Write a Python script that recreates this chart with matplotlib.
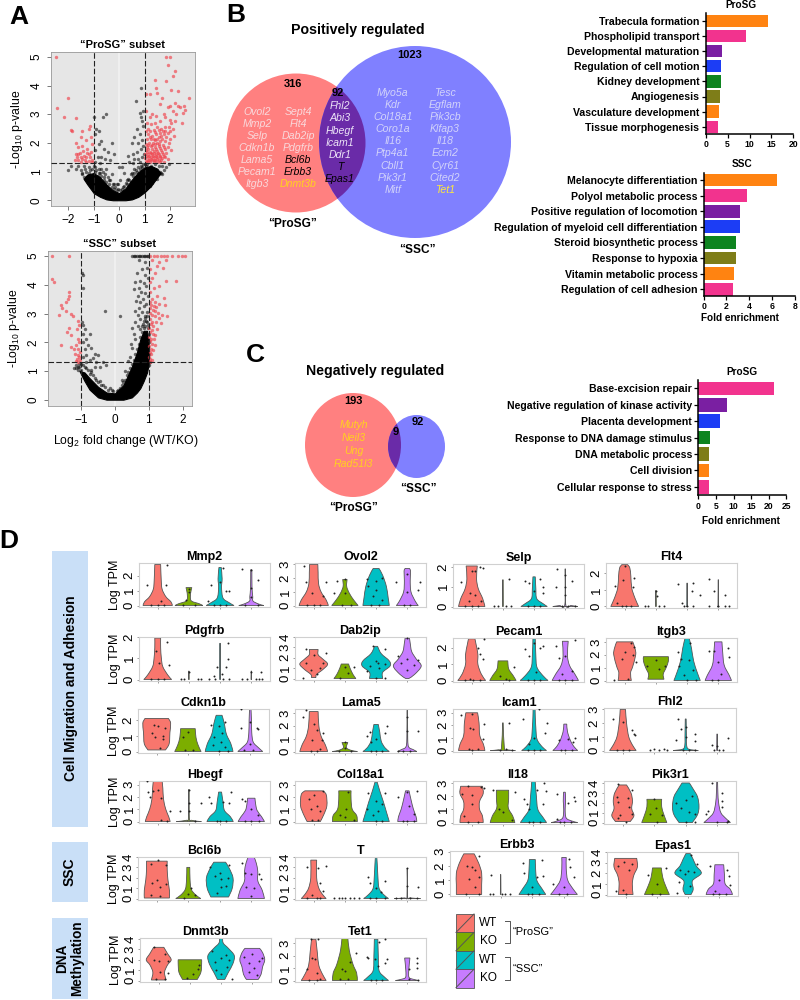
import matplotlib
matplotlib.use("Agg")
import matplotlib.pyplot as plt
from matplotlib.patches import Circle, Ellipse, PathPatch, Rectangle
from matplotlib.path import Path

plt.rcParams["font.family"] = ["Liberation Sans", "DejaVu Sans"]
plt.rcParams["mathtext.default"] = "regular"

# --- PANEL A DATA ---

PROSG_RED = [
    (-2.5, 5.0), (-2.45, 3.22), (-2.0, 3.55), (-2.15, 2.9), (-1.7, 2.88), (-1.9, 2.45), (-1.85, 2.4),
    (-1.45, 2.4), (-1.2, 2.5), (-1.15, 2.6), (-1.5, 2.2), (-1.3, 2.1), (-1.1, 2.2), (-1.7, 2.0), (-1.6, 1.85),
    (-1.45, 1.9), (-1.25, 1.8), (-1.05, 1.95), (-1.7, 1.6), (-1.55, 1.65), (-1.4, 1.55), (-1.2, 1.6), (-1.1, 1.7),
    (-1.75, 1.4), (-1.6, 1.4), (-1.5, 1.35), (-1.35, 1.4), (-1.2, 1.38), (-1.05, 1.42), (-1.65, 1.5), (-1.3, 1.5),
    (1.85, 5.0), (2.0, 5.0), (1.9, 4.7), (2.2, 4.5), (2.1, 4.35), (1.83, 4.15), (1.4, 4.2), (1.43, 3.9),
    (1.5, 3.75), (1.05, 3.7), (1.2, 3.72), (2.3, 3.8), (2.05, 3.85), (2.2, 3.4), (2.75, 3.55), (2.55, 3.3),
    (2.4, 3.25), (2.6, 3.15), (2.5, 3.05), (2.3, 3.3), (2.25, 3.0), (2.1, 3.1), (2.0, 3.3), (1.9, 3.25),
    (1.7, 3.55), (1.6, 3.35), (1.8, 2.9), (1.75, 3.0), (1.45, 2.95), (1.3, 3.0), (1.2, 2.9), (1.05, 3.1),
    (2.2, 2.75), (2.05, 2.7), (1.95, 2.55), (2.1, 2.5), (2.45, 2.7), (2.0, 2.8), (1.6, 2.75), (1.4, 2.7),
    (1.25, 2.65), (1.1, 2.7), (1.8, 2.55), (1.65, 2.5), (1.5, 2.55), (1.35, 2.45), (1.15, 2.5), (1.05, 2.4),
    (1.9, 2.35), (1.75, 2.3), (1.6, 2.35), (1.45, 2.3), (1.3, 2.25), (1.15, 2.3), (1.85, 2.2), (1.7, 2.15),
    (1.55, 2.2), (1.4, 2.1), (1.25, 2.12), (1.08, 2.15), (2.0, 2.15), (1.95, 2.0), (1.8, 2.05), (1.62, 2.05),
    (1.48, 2.0), (1.33, 1.98), (1.18, 2.0), (1.05, 1.95), (1.72, 1.92), (1.55, 1.88), (1.4, 1.85), (1.25, 1.88),
    (1.1, 1.85), (1.9, 1.85), (1.8, 1.78), (1.65, 1.75), (1.5, 1.72), (1.35, 1.72), (1.2, 1.7), (1.05, 1.75),
    (1.72, 1.62), (1.58, 1.62), (1.45, 1.6), (1.3, 1.6), (1.15, 1.6), (1.02, 1.62), (1.85, 1.65), (1.62, 1.5),
    (1.5, 1.5), (1.38, 1.5), (1.25, 1.5), (1.12, 1.5), (1.02, 1.48), (1.7, 1.48), (1.55, 1.4), (1.42, 1.4),
    (1.3, 1.4), (1.18, 1.4), (1.06, 1.38), (1.6, 1.34), (1.48, 1.33), (1.35, 1.33), (1.22, 1.33), (1.1, 1.33),
    (1.75, 1.35), (1.9, 1.45), (2.05, 1.75), (1.98, 2.4), (2.15, 2.25), (1.28, 1.8), (1.42, 1.95), (1.58, 1.95),
    (1.12, 1.92), (1.2, 2.2), (1.35, 2.15), (1.5, 2.12), (1.65, 2.25), (1.8, 2.42), (1.72, 2.42), (1.55, 2.45),
    (1.4, 2.38), (1.22, 2.4), (1.08, 1.68), (1.24, 1.66), (1.38, 1.66), (1.52, 1.64), (1.68, 1.68), (1.76, 1.55),
    (1.6, 1.55), (1.44, 1.54), (1.32, 1.54), (1.18, 1.54), (1.06, 1.56), (1.12, 1.42), (1.25, 1.44), (1.37, 1.42),
    (1.5, 1.44), (1.66, 1.42), (1.82, 1.5), (1.45, 1.78), (1.6, 1.82), (1.75, 1.85), (1.3, 1.92), (1.15, 1.78),
    (-1.5, 1.52), (-1.42, 1.72), (-1.28, 1.65), (-1.15, 1.5), (-1.62, 1.62), (-1.08, 1.32), (-1.3, 1.33), (-1.45, 1.45),
]
PROSG_BLACK = [
    (-0.98, 2.9), (-0.9, 2.5), (-0.95, 2.3), (-0.8, 2.4), (-0.7, 2.05), (-0.5, 3.0), (-0.65, 2.9), (-0.8, 1.95),
    (-0.6, 1.8), (-0.45, 1.7), (-0.3, 2.0), (-0.95, 1.75), (-0.85, 1.5), (-0.7, 1.5), (-0.55, 1.45), (-0.35, 1.4),
    (-0.95, 1.35), (-0.75, 1.3), (-0.2, 1.6), (0.55, 1.6), (0.5, 2.0), (0.6, 2.2), (0.7, 2.5), (0.75, 2.0),
    (0.8, 3.05), (0.85, 2.9), (0.9, 2.75), (0.95, 2.6), (0.8, 2.3), (0.9, 2.1), (0.95, 3.1), (0.65, 3.45),
    (0.85, 3.9), (0.95, 1.9), (0.85, 1.8), (0.7, 1.7), (0.6, 1.45), (0.75, 1.45), (0.9, 1.5), (0.98, 1.6),
    (0.4, 1.35), (0.55, 1.3), (0.8, 1.35), (0.35, 1.55), (0.2, 0.95), (0.1, 1.15), (0.0, 1.17), (-0.1, 0.55),
    (-0.2, 0.58), (-0.05, 0.55), (0.05, 0.7), (-0.3, 0.9), (-0.5, 1.1), (-0.7, 1.1), (-0.95, 1.15), (-1.2, 1.15),
    (-1.4, 1.2), (-1.6, 1.2), (-1.7, 1.1), (-1.5, 1.05), (-1.3, 1.0), (-1.1, 0.85), (-1.25, 0.8), (-1.45, 0.9),
    (-2.0, 1.05), (-1.9, 1.2), (1.1, 1.25), (1.25, 1.2), (1.4, 1.25), (1.55, 1.2), (1.7, 1.2), (1.85, 1.15),
    (1.95, 1.25), (1.15, 1.1), (1.3, 1.05), (1.45, 1.0), (1.6, 1.0), (1.75, 1.05), (1.5, 0.85), (1.35, 0.8),
    (1.25, 0.65), (-0.4, 0.7), (-0.6, 0.8), (-0.8, 0.95), (0.3, 0.7), (0.45, 0.9), (0.6, 1.1),
    (-1.45, 0.95), (-1.4, 0.8), (-1.35, 1.1), (-1.3, 0.7), (-1.2, 0.95), (-1.15, 1.05), (-1.1, 0.6), (-1.05, 1.1),
    (-1.0, 1.2), (-0.95, 1.0), (-0.9, 1.05), (-0.85, 0.85), (-0.8, 1.1), (-0.75, 0.95), (-0.7, 0.85), (-0.65, 1.0),
    (-0.6, 0.7), (-0.55, 0.9), (-0.5, 0.65), (-0.45, 0.8), (-0.4, 0.55), (-0.35, 0.7), (-0.3, 0.45), (-0.25, 0.55),
    (-0.2, 0.4), (-0.15, 0.45), (-0.1, 0.35), (-0.05, 0.4), (0.05, 0.35), (0.1, 0.4), (0.15, 0.45), (0.2, 0.5),
    (0.25, 0.6), (0.3, 0.55), (0.35, 0.75), (0.4, 0.7), (0.45, 0.65), (0.5, 0.95), (0.55, 0.85), (0.6, 0.95),
    (0.65, 1.05), (0.7, 1.0), (0.75, 1.15), (0.8, 1.1), (0.85, 1.2), (0.9, 1.15), (0.95, 1.28), (1.0, 1.25),
    (1.05, 1.2), (1.1, 0.95), (1.2, 0.5), (1.3, 0.6), (1.4, 0.75), (1.5, 0.75), (1.55, 0.9), (1.65, 0.95), (1.7, 0.9),
]
PROSG_MASS_X = [-1.4, -1.25, -1.0, -0.75, -0.5, -0.25, 0.0, 0.25, 0.5, 0.75, 1.0, 1.25, 1.5, 1.62]
PROSG_MASS_TOP = [0.75, 0.9, 0.95, 0.8, 0.55, 0.35, 0.25, 0.42, 0.72, 0.98, 1.15, 1.2, 1.1, 0.95]
PROSG_MASS_LOW = [0.75, 0.55, 0.25, 0.12, 0.03, 0.0, 0.0, 0.0, 0.03, 0.12, 0.28, 0.5, 0.8, 0.95]

SSC_RED = [
    (-1.85, 5.0), (-1.35, 5.0), (-1.85, 4.2), (-1.8, 4.1), (-1.35, 3.75), (-1.35, 3.6), (-1.4, 3.5), (-1.45, 3.4),
    (-1.6, 3.3), (-1.58, 3.2), (-1.65, 2.95), (-1.45, 3.1), (-1.3, 3.0), (-1.25, 2.9), (-1.1, 2.75), (-1.05, 2.6),
    (-1.12, 2.45), (-1.35, 2.5), (-1.42, 2.35), (-1.3, 2.25), (-1.6, 1.9), (-1.3, 1.85), (-1.1, 2.1), (-1.05, 2.0),
    (-1.15, 1.9), (-1.2, 1.75), (-1.08, 1.75), (-1.03, 1.65), (-1.18, 1.6), (-1.1, 1.55), (-1.05, 1.48), (-1.12, 1.42),
    (-1.02, 1.38), (-1.08, 1.33), (-1.15, 1.35),
    (1.05, 5.0), (1.15, 5.0), (1.25, 5.0), (1.35, 5.0), (1.45, 5.0), (1.55, 5.0), (1.7, 5.0), (1.88, 5.0),
    (1.98, 5.0), (2.07, 5.0), (1.1, 4.85), (1.3, 4.8), (1.5, 4.85), (1.05, 4.55), (1.25, 4.65), (1.42, 4.6),
    (1.2, 4.4), (1.1, 4.25), (1.5, 4.15), (1.8, 4.15), (1.03, 4.1), (1.3, 3.95), (1.15, 3.9), (1.05, 3.75),
    (1.25, 3.6), (1.45, 3.55), (1.1, 3.5), (1.03, 3.4), (1.18, 3.42), (1.3, 3.35), (1.48, 3.3), (1.07, 3.3),
    (1.15, 3.28), (1.22, 3.22), (1.05, 3.18), (1.12, 3.12), (1.2, 3.08), (1.27, 3.02), (1.03, 3.02), (1.1, 2.95),
    (1.18, 2.9), (1.3, 2.85), (1.04, 2.8), (1.1, 2.72), (1.22, 2.7), (1.35, 2.68), (1.06, 2.62), (1.14, 2.55),
    (1.02, 2.5), (1.09, 2.42), (1.25, 2.45), (1.04, 2.35), (1.12, 2.3), (1.2, 2.25), (1.02, 2.2), (1.08, 2.12),
    (1.15, 2.1), (1.03, 2.05), (1.1, 1.95), (1.18, 1.9), (1.02, 1.88), (1.06, 1.78), (1.12, 1.72), (1.03, 1.65),
    (1.08, 1.58), (1.02, 1.5), (1.05, 1.42), (1.1, 1.38), (1.03, 1.33), (1.4, 2.95), (1.55, 2.9),
]
SSC_BLACK = [
    (0.5, 5.0), (0.55, 5.0), (0.6, 5.0), (0.65, 5.0), (0.7, 5.0), (0.75, 5.0), (0.8, 5.0), (0.85, 5.0), (0.9, 5.0),
    (0.95, 5.0), (0.98, 5.0), (0.72, 4.85), (0.9, 4.8), (0.95, 4.6), (0.8, 4.55), (0.65, 4.4), (0.88, 4.35),
    (0.97, 4.25), (0.75, 4.15), (0.6, 4.1), (0.85, 4.05), (0.93, 3.95), (0.7, 3.9), (0.55, 3.85), (0.78, 3.75),
    (0.9, 3.7), (0.97, 3.6), (0.68, 3.6), (0.83, 3.5), (0.62, 3.45), (0.75, 3.4), (0.92, 3.35), (0.85, 3.25),
    (0.7, 3.2), (0.6, 3.1), (0.8, 3.05), (0.95, 3.05), (0.68, 2.95), (0.88, 2.9), (0.75, 2.8), (0.6, 2.7),
    (0.92, 2.75), (0.82, 2.65), (0.97, 2.6), (0.5, 2.5), (0.68, 2.55), (0.14, 2.9), (-0.98, 4.4), (-0.95, 4.35),
    (-0.95, 3.9), (-0.3, 3.1), (-0.98, 2.7), (-0.93, 2.6), (-0.9, 2.45), (-0.95, 2.3), (-0.85, 2.1), (-0.75, 2.3),
    (-0.95, 2.0), (-0.8, 1.9), (-0.7, 1.8), (-0.6, 1.6), (-0.5, 1.55), (-0.9, 1.75), (-0.65, 1.45), (-0.85, 1.55),
    (-0.95, 1.5), (-0.75, 1.4), (-0.55, 1.3), (-0.35, 1.3), (-0.25, 1.2), (-0.45, 1.15), (-0.6, 1.15), (-1.05, 1.25),
    (-1.1, 1.15), (-1.0, 1.05), (-0.7, 1.05), (-0.85, 1.3), (-1.15, 1.2), (0.45, 1.5), (0.5, 1.8), (0.4, 1.35),
    (0.6, 2.1), (0.55, 2.3), (0.48, 1.95), (0.75, 2.45), (0.3, 1.0), (0.2, 0.7), (1.02, 1.2), (1.05, 1.3),
    (0.5, 1.25), (0.55, 1.4), (0.6, 1.35), (0.6, 1.6), (0.65, 1.75), (0.7, 1.55), (0.7, 1.95), (0.75, 2.2),
    (0.75, 1.8), (0.8, 2.35), (0.8, 2.55), (0.85, 2.5), (0.85, 2.75), (0.9, 2.55), (0.9, 2.85), (0.95, 2.7),
    (0.95, 2.9), (1.0, 2.0), (1.0, 1.6), (1.0, 2.3), (0.98, 2.5), (0.4, 0.95), (0.35, 0.85), (0.3, 0.7), (0.25, 0.6),
    (0.2, 0.5), (0.15, 0.4), (0.1, 0.35), (0.05, 0.3), (-0.05, 0.3), (-0.1, 0.35), (-0.15, 0.4), (-0.2, 0.35),
    (-0.3, 0.45), (-0.35, 0.5), (-0.4, 0.5), (-0.45, 0.65), (-0.5, 0.6), (-0.55, 0.7), (-0.6, 0.75), (-0.65, 0.85),
    (-0.7, 0.95), (-0.75, 0.9), (-0.8, 1.05), (-0.85, 1.1), (-0.9, 1.15), (-0.95, 1.2), (-1.0, 1.25), (-1.05, 1.15),
    (-1.1, 1.05), (-1.15, 1.1), (-1.2, 1.1), (0.45, 1.1),
]
SSC_MASS_X = [-1.05, -0.9, -0.75, -0.5, -0.25, 0.0, 0.25, 0.5, 0.65, 0.75, 0.85, 0.95, 1.0]
SSC_MASS_TOP = [1.0, 0.95, 0.75, 0.45, 0.25, 0.22, 0.5, 1.15, 1.65, 2.1, 2.4, 2.4, 1.9]
SSC_MASS_LOW = [1.0, 0.65, 0.35, 0.08, 0.0, 0.0, 0.0, 0.08, 0.25, 0.4, 0.65, 0.95, 1.25]

# --- PANEL B AND C DATA ---

UP_PROSG_ONLY_1 = ["Ovol2", "Mmp2", "Selp", "Cdkn1b", "Lama5", "Pecam1", "Itgb3"]
UP_PROSG_ONLY_2 = ["Sept4", "Flt4", "Dab2ip", "Pdgfrb", "Bcl6b", "Erbb3", "Dnmt3b"]
UP_SHARED = ["Fhl2", "Abi3", "Hbegf", "Icam1", "Ddr1", "T", "Epas1"]
UP_SSC_ONLY_1 = ["Myo5a", "Kdr", "Col18a1", "Coro1a", "Il16", "Ptp4a1", "Cbll1", "Pik3r1", "Mitf"]
UP_SSC_ONLY_2 = ["Tesc", "Egflam", "Pik3cb", "Klfap3", "Il18", "Ecm2", "Cyr61", "Cited2", "Tet1"]
DOWN_PROSG_ONLY = ["Mutyh", "Neil3", "Ung", "Rad51l3"]

UP_PROSG_TERMS = ["Trabecula formation", "Phospholipid transport", "Developmental maturation",
                  "Regulation of cell motion", "Kidney development", "Angiogenesis",
                  "Vasculature development", "Tissue morphogenesis"]
UP_PROSG_FOLD = [14.3, 9.3, 3.7, 3.5, 3.5, 3.2, 3.0, 2.7]
UP_SSC_TERMS = ["Melanocyte differentiation", "Polyol metabolic process",
                "Positive regulation of locomotion", "Regulation of myeloid cell differentiation",
                "Steroid biosynthetic process", "Response to hypoxia", "Vitamin metabolic process",
                "Regulation of cell adhesion"]
UP_SSC_FOLD = [6.4, 3.8, 3.2, 3.15, 2.85, 2.85, 2.65, 2.6]
DOWN_PROSG_TERMS = ["Base-excision repair", "Negative regulation of kinase activity", "Placenta development",
                    "Response to DNA damage stimulus", "DNA metabolic process", "Cell division",
                    "Cellular response to stress"]
DOWN_PROSG_FOLD = [21.6, 8.2, 6.1, 3.4, 3.0, 3.0, 3.0]

ORANGE, PINK, PURPLE, BLUE, GREEN, OLIVE = "#FF8311", "#F2338E", "#7A1FA2", "#1C3DF5", "#0E8420", "#7E7D18"
UP_COLORS = [ORANGE, PINK, PURPLE, BLUE, GREEN, OLIVE, ORANGE, PINK]
DOWN_COLORS = [PINK, PURPLE, BLUE, GREEN, OLIVE, ORANGE, PINK]

# --- PANEL D DATA ---
# outline of each violin: (log TPM, relative half width), one list for each of the four groups

GROUP_COLORS = ["#F8766D", "#7CAE00", "#00BFC4", "#C77CFF"]

MMP2_SHAPES = [[(0, 1), (.25, .9), (.6, .55), (1.1, .3), (1.7, .24), (2.75, .2)],
               [(0, .95), (.12, .7), (.3, .18), (.6, .1), (1.0, .15), (1.2, .2)],
               [(0, .95), (.2, .6), (.5, .2), (1.2, .1), (1.8, .14), (2.55, .08)],
               [(0, .85), (.1, .5), (.3, .12), (.6, .1), (1.2, .05), (2.4, .04)]]
MMP2_DOTS = [(.65, 1.35), (1.3, 2.7), (1.25, 1.4), (1.1, .3), (1, .05), (.8, .03), (1.2, .03), (1.9, .4), (2, .9),
             (2, 1.1), (2.2, .05), (1.8, .03), (2.6, .3), (2.7, 1.4), (3, 1.6), (3.1, 2.5), (3.2, 1.0), (3.3, .95),
             (3, .03), (3.2, .03), (2.8, .03), (3.7, 2.45), (4, 2.4), (4, 1.2), (4, .6), (4.2, 1.7), (4.2, .03), (3.8, .03)]

OVOL2_SHAPES = [[(0, 1), (.4, .85), (1, .5), (1.6, .33), (2.4, .3), (3, .28)],
                [(0, .9), (.4, .6), (.9, .3), (1.4, .12), (1.9, .15)],
                [(0, .9), (.6, .82), (1.4, .7), (2.2, .45), (2.7, .2)],
                [(0, .75), (.3, .55), (1, .25), (1.8, .2), (2.5, .22), (2.7, .15)]]
OVOL2_DOTS = [(.7, 2.9), (.75, 1.7), (.95, .9), (1.4, 1.7), (1.3, .7), (1, .03), (.8, .03), (1.2, .03), (1.65, .9),
              (1.75, 1.8), (2, 1.9), (2, .9), (1.9, .03), (2.2, .03), (2.7, 1.9), (2.75, 1.4), (3, 1.8), (3, 1.1),
              (3.2, 2.0), (2.9, .7), (3.2, .4), (3.1, .03), (2.85, .03), (3.65, 1.7), (4, 2.3), (4.4, 1.7), (4.35, 1.1),
              (4, 1.0), (4.1, .03), (3.9, .03)]

SELP_SHAPES = [[(0, .9), (.4, .75), (.9, .45), (1.4, .33), (2.05, .38)],
               [(0, .03), (1.35, .02)],
               [(0, .9), (.15, .6), (.4, .18), (.9, .12), (1.5, .08)],
               [(0, .85), (.05, .4), (.1, .03), (1.9, .02)]]
SELP_DOTS = [(.65, 1.25), (1.35, 1.95), (1.25, 2.0), (1.1, 1.8), (1, 1.8), (.95, .7), (1.1, .6), (1.3, .3), (.9, .3),
             (1, .03), (1.2, .03), (.8, .03), (1.7, .03), (1.85, .03), (2.1, .03), (2.25, .03), (2.2, 1.4), (2.7, 1.3),
             (2.85, 1.2), (3.2, 1.4), (3.3, 1.0), (3.3, .7), (3, .8), (3, .03), (3.2, .03), (2.8, .03), (3.7, 1.0),
             (3.75, 1.9), (4, 1.6), (4, 1.0), (4, .6), (4.2, 1.3), (3.9, .03), (4.1, .03), (4.3, .03)]

FLT4_SHAPES = [[(0, .95), (.5, .7), (1.1, .48), (1.8, .42), (2.3, .35), (2.5, .2)],
               [(0, .03), (.95, .02)],
               [(0, .05), (.1, .02), (1.4, .01)],
               [(0, .05), (.1, .02), (1.6, .01)]]
FLT4_DOTS = [(.7, 1.2), (.95, 1.6), (1, 2.4), (1.3, 1.7), (1.25, 1.15), (.75, .2), (.9, .03), (1.2, .03), (1.05, .03),
             (1.65, .03), (1.75, .03), (2, .9), (2.05, .6), (2.1, .03), (2.25, .03), (2.7, 1.35), (2.85, .2), (3.2, 1.4),
             (3.15, .9), (3.4, .7), (3, .03), (3.2, .03), (2.9, .03), (3.7, 1.65), (3.85, .9), (3.7, .03), (4.2, .7),
             (4, .03), (4.2, .03), (4.35, .03)]

PDGFRB_SHAPES = [[(0, .95), (.2, .7), (.6, .35), (1.0, .25), (1.5, .2), (1.95, .2)],
                 [(0, .02), (.4, .01)],
                 [(0, .03), (1.7, .03)],
                 [(0, .02), (.4, .01)]]
PDGFRB_DOTS = [(1.05, .8), (.95, 1.35), (1.3, 1.75), (1.35, .7), (.8, .03), (1, .03), (1.2, .03), (1.75, .03), (1.85, .03),
               (2, .35), (2.3, .03), (2.4, .03), (2.65, .03), (2.8, .15), (2.85, .03), (2.9, .6), (3.1, .03), (3.25, 1.7),
               (3.25, .95), (3.2, .6), (3.3, .03), (3.05, .25), (3.7, .03), (3.85, .03), (4, .35), (4.15, .03), (4.25, .03),
               (4.3, .35), (4.35, .03)]

DAB2IP_SHAPES = [[(.1, .15), (.4, .2), (.9, .65), (1.4, .95), (1.9, .6), (2.3, .3), (2.8, .3)],
                 [(0, .75), (.4, .55), (1.0, .35), (1.4, .25)],
                 [(0, .45), (.6, .45), (1.2, .95), (1.7, .9), (2.4, .35), (3.1, .1)],
                 [(0, .1), (.4, .5), (1.2, .95), (1.9, .6), (2.6, .3), (3.4, .2), (3.9, .15)]]
DAB2IP_DOTS = [(.65, .03), (.75, 2.8), (1, 2.3), (1.2, 1.0), (.9, .8), (.75, 1.5), (1.3, 1.5), (1.4, 2.5), (1.1, .4),
               (1.85, .03), (2, 1.1), (2.1, .5), (2.3, 1.1), (2.9, 3.1), (3.3, 2.8), (3, 1.7), (2.8, 1.2), (3.1, 1.0),
               (3.3, 1.4), (3.05, 1.5), (2.7, .7), (3, .03), (3.3, .03), (4, 3.9), (4, 1.9), (3.8, 1.5), (4.2, 1.3),
               (4, .8), (3.7, 2.2), (4.35, 1.8)]

PECAM1_SHAPES = [[(0, .95), (.4, .65), (1, .42), (1.6, .42), (2.2, .3), (2.55, .22)],
                 [(0, .9), (.3, .7), (.7, .4), (1.2, .33)],
                 [(0, .95), (.3, .6), (.8, .2), (1.5, .12), (2.55, .08)],
                 [(0, .9), (.4, .65), (.9, .3), (1.5, .15), (2.4, .2)]]
PECAM1_DOTS = [(1.4, 2.55), (1.2, 2.0), (1.25, 1.6), (1.35, 1.3), (.95, .1), (1.05, .03), (1.25, .03), (.8, .03), (2.35, .8),
               (1.9, .3), (2.1, .1), (2.2, .03), (2.7, 1.9), (2.85, 1.5), (3, 2.3), (3.2, 2.0), (3.3, 2.1), (3.05, .5),
               (3, .03), (3.2, .03), (2.8, .03), (3.7, 2.1), (3.8, 1.4), (4, 1.5), (4.3, 2.5), (3.9, .4), (4.2, .6),
               (4, .03), (4.2, .03), (3.8, .03)]

ITGB3_SHAPES = [[(0, .45), (.6, .4), (1.1, .55), (2, .75), (2.5, .7), (3, .55)],
                [(.1, .55), (.5, .5), (1, .7), (1.5, .85), (1.85, .85)],
                [(0, .9), (.6, .7), (1.5, .45), (2.5, .3), (3.25, .15)],
                [(0, .9), (.4, .75), (1.2, .4), (2.2, .3), (3, .25)]]
ITGB3_DOTS = [(.65, .03), (1.2, 2.9), (1.3, 2.6), (1, 2.2), (1.25, 2.0), (.9, 1.7), (1.1, .1), (1.35, 1.4), (2, 1.6), (1.7, 1.1),
              (2.3, 1.1), (2.1, .9), (2.7, 2.2), (2.8, 1.7), (2.75, 1.1), (3.1, 2.9), (3.05, 1.6), (3.2, .8), (3, .03),
              (3.3, .03), (2.9, .4), (3.7, 2.3), (3.85, 2.3), (4.3, 2.5), (4.35, 1.8), (4, 1.4), (4.1, .5), (4, .03), (3.8, .03)]

CDKN1B_SHAPES = [[(.1, .6), (.5, .85), (1.2, .9), (1.8, .95), (2.1, .8)],
                 [(0, .9), (.4, .7), (.9, .55), (1.45, .5)],
                 [(0, .95), (.5, .8), (1.1, .5), (1.8, .35), (2.3, .2)],
                 [(0, .85), (.25, .55), (.6, .2), (1.2, .1), (2, .08), (2.7, .05)]]
CDKN1B_DOTS = [(.9, 1.7), (1.05, 1.6), (1.25, 1.5), (.85, 1.2), (1.2, 1.0), (.95, .9), (1.2, .8), (1.1, .2), (2, 1.25), (1.85, .9),
               (2.15, .1), (1.9, .1), (2.75, 1.7), (2.85, .9), (3, 1.6), (3.1, 1.2), (3.2, 1.9), (3.05, .6), (2.8, .4),
               (3.2, .3), (3, .03), (3.3, .03), (3.7, 2.7), (3.7, 1.5), (4, 1.9), (4.2, 1.5), (4.25, 1.45), (4, .5), (4.1, .1), (3.8, .1)]

LAMA5_SHAPES = [[(0, .95), (.5, .8), (1.2, .5), (2, .35), (3.1, .3)],
                [(0, .85), (.1, .4), (.3, .1), (.7, .2)],
                [(0, .9), (.3, .6), (.8, .35), (1.5, .25), (2.1, .15)],
                [(0, .65), (.15, .4), (.35, .1), (1, .03), (3.2, .02)]]
LAMA5_DOTS = [(.65, 2.7), (.75, 3.2), (1, 2.1), (1.1, 1.7), (.95, .9), (1.3, 1.4), (1.25, .9), (1.2, .2), (.9, .03), (1.1, .03),
              (2, .7), (2, .3), (1.8, .03), (2.2, .03), (2.7, 1.2), (2.8, 1.5), (2.85, .7), (3, 1.0), (3.35, 2.0), (3.3, 1.4),
              (3, .03), (3.2, .03), (2.85, .03), (4, 2.7), (4, 1.6), (4.35, 1.6), (4.1, .03), (3.85, .03), (3.7, .03)]

ICAM1_SHAPES = [[(0, .9), (.5, .8), (1.2, .55), (2.2, .5), (3, .4)],
                [(0, .85), (.06, .3), (.2, .1), (2.2, .02)],
                [(0, .85), (.3, .55), (.9, .2), (1.8, .12), (2.7, .08), (3.3, .07)],
                [(0, .85), (.3, .6), (.8, .35), (1.5, .15), (2.1, .1)]]
ICAM1_DOTS = [(.65, 2.8), (1, 2.9), (.95, 1.8), (1.05, 1.7), (1.4, 2.1), (1.35, .9), (.9, .1), (1.2, .1), (1, .03), (2.2, 2.2),
              (1.9, .03), (2.1, .1), (2.3, .03), (2.65, 2.5), (2.85, .5), (3, 1.0), (3.15, 3.3), (3.35, 1.4), (3.4, 2.2),
              (3, .03), (3.2, .03), (2.8, .03), (3.8, .8), (4.1, .9), (4.3, 1.0), (4.25, .7), (4, .03), (3.85, .03), (4.2, .03)]

FHL2_SHAPES = [[(0, .9), (.4, .65), (1, .4), (2, .25), (3, .18)],
               [],
               [(0, .85), (.1, .2), (.4, .06), (1, .05), (2.3, .03)],
               [(0, .03), (1.2, .02)]]
FHL2_DOTS = [(.7, 2.3), (1, 2.1), (1.3, 1.5), (1.4, 1.1), (1.35, 1.2), (1, .03), (.8, .03), (1.2, .03), (1.85, .03), (2, .1), (2.15, .03),
             (2.3, .1), (2.4, .03), (2.7, .8), (2.75, 2.3), (2.85, 1.6), (3, 1.7), (3, 1.0), (3.3, 1.2), (3.3, .7), (2.9, .03),
             (3.1, .03), (3.3, .03), (3.85, .4), (3.9, .03), (4, .3), (4.05, .03), (4.35, .9), (4.2, .03)]

HBEGF_SHAPES = [[(0, .85), (.4, .75), (1, .55), (1.8, .4), (2.7, .35), (3.3, .3)],
                [(0, .85), (.1, .2), (.3, .03), (2.6, .02)],
                [(0, .9), (.4, .7), (.9, .3), (1.6, .2), (2.4, .1)],
                [(0, .9), (.4, .7), (.9, .4), (1.4, .3), (1.9, .25)]]
HBEGF_DOTS = [(.65, 3.3), (.7, 2.4), (.85, 2.5), (1, 2.6), (1.1, 1.9), (.75, 2.0), (1.4, .9), (1.1, .1), (1.3, .03), (1.7, .85),
              (2, 2.6), (2, 1.5), (2, .85), (2.4, 1.5), (2.2, .03), (2.65, 2.0), (2.7, 1.5), (3.1, 1.6), (3.35, 2.4), (3.3, 1.5),
              (3, .03), (3.2, .03), (2.9, .03), (3.7, 1.8), (3.8, 1.7), (4, 1.0), (4.2, .5), (4, .03), (3.8, .03), (4.25, .03)]

COL18A1_SHAPES = [[(0, .45), (.6, .7), (1.3, .9), (2.2, .85), (2.5, .6)],
                  [(0, .85), (.5, .8), (1, .5), (1.8, .42), (2.5, .42)],
                  [(0, .9), (.8, .7), (1.6, .5), (2.5, .25), (3.2, .08)],
                  [(0, .65), (.4, .6), (1, .42), (1.8, .25), (2.5, .12)]]
COL18A1_DOTS = [(.85, 1.8), (1, 2.2), (1.1, 1.3), (1.3, 2.5), (.9, 1.0), (1.2, .9), (.95, .1), (1.15, .1), (1.85, .5), (2, .4), (2.1, 2.4),
                (2.05, 1.0), (2.3, .1), (2.7, 1.0), (2.75, 2.3), (3, 1.7), (3.05, .9), (3.2, 1.4), (3.3, 2.3), (2.9, .5), (3, .03),
                (3.2, .03), (3.7, 2.0), (4, 2.4), (4.3, 2.5), (4.05, 1.3), (4.2, .6), (4, .03), (3.85, .03), (4.2, .03)]

IL18_SHAPES = [[(0, .8), (.5, .75), (1, .55), (1.6, .55), (2.2, .8), (2.75, .75)],
               [(0, .85), (.5, .7), (1.1, .4), (1.8, .42), (2.45, .42)],
               [(0, .9), (.4, .65), (1, .3), (2, .2), (3.1, .12)],
               [(0, .9), (.12, .5), (.35, .12), (1, .05), (1.6, .08), (2.3, .06)]]
IL18_DOTS = [(.7, 2.2), (.9, 2.75), (1, 2.1), (1.3, 2.7), (1.4, 2.6), (1, 1.4), (.75, .5), (1.2, .03), (.9, .03), (1.7, 2.5), (1.9, 1.0), (2, .8),
             (2.4, 2.3), (2.3, .2), (2.7, 1.8), (2.8, 1.4), (2.85, 1.0), (3.1, 2.5), (3.35, 3.0), (3.4, 2.4), (3.3, 1.4), (3, .03), (3.2, .03), (2.85, .03),
             (3.75, 2.2), (3.75, .3), (4.1, 1.5), (4.35, 1.6), (4.3, 1.9), (4, .03), (4.2, .03), (3.85, .03)]

PIK3R1_SHAPES = [[(.1, .5), (.7, .75), (1.4, .6), (2.2, .65), (3, .55), (3.8, .25)],
                 [(0, .85), (.8, .65), (1.6, .5), (2.35, .5)],
                 [(0, .45), (.8, .8), (1.6, .9), (2.6, .8), (3.4, .5), (4, .25)],
                 [(0, .9), (.4, .6), (1, .25), (2, .1), (3, .05), (4.1, .03)]]
PIK3R1_DOTS = [(.85, 3.9), (.8, 2.6), (.85, 2.1), (.9, .8), (.85, .5), (1.2, 1.6), (1.15, 2.5), (1.3, .9), (1.3, 3.3), (1.1, .03), (1.85, .9),
               (2, 2.4), (2.05, 1.5), (2.25, .8), (2.1, .03), (2.7, 2.0), (2.85, 1.5), (3, 2.3), (3.1, 1.1), (3.2, 2.7), (3.3, .9), (3, .1), (3.3, .03),
               (3.65, .9), (3.7, 1.2), (3.85, 4.0), (4.15, 3.0), (4.15, 2.2), (4.15, 1.6), (4.35, .2), (4.3, .03), (4, .03)]

BCL6B_SHAPES = [[(.05, .85), (.8, .85), (1.8, .75), (2.8, .7), (3.6, .7)],
                [(0, .85), (.35, .5), (.9, .2), (1.8, .12), (3, .1)],
                [(.15, .6), (1, .85), (2, .9), (2.9, .65), (3.5, .4)],
                [(0, .9), (.8, .75), (1.7, .45), (2.6, .45), (3.4, .35), (4, .2)]]
BCL6B_DOTS = [(.8, 3.3), (1.05, 3.7), (1.3, 3.2), (.85, 1.5), (1, 1.8), (1.3, 1.4), (1.1, 1.1), (.8, .3), (1.1, .2), (1.85, .1), (2, .4), (2.1, 1.0),
              (2.2, .3), (2.7, 3.0), (2.85, 2.2), (3, 2.5), (3.05, 1.9), (3.25, 2.0), (3.05, 1.1), (3.2, 1.2), (2.9, .5), (3.3, 3.2), (3.7, 3.4), (3.8, 2.5),
              (4, 2.4), (4.25, 2.4), (4.1, 1.0), (4, .2), (3.85, 1.1), (4.3, 1.9)]

T_SHAPES = [[(0, .85), (.4, .6), (1, .35), (2, .2), (3.7, .2)],
            [],
            [(0, .85), (.4, .5), (1, .2), (2.2, .12), (3.3, .08), (3.95, .05)],
            [(0, .9), (.06, .2), (.2, .02), (2.9, .02)]]
T_DOTS = [(.8, 3.0), (1.15, 2.9), (1.4, 3.1), (1.2, 1.5), (1.3, .7), (.95, .3), (1.1, .03), (.8, .03), (1.2, .03), (1.65, .03), (1.8, .03), (1.9, .03),
          (2, .1), (2.15, .03), (2.3, .03), (2.45, .03), (2.75, 2.1), (2.8, 1.5), (3, 1.0), (3.3, 1.7), (3.15, .6), (3, .03), (3.3, .03), (2.8, .03),
          (3.65, .03), (4, 2.9), (4, 1.2), (4.35, 1.1), (4.1, .03), (3.8, .03), (4.3, .03)]

ERBB3_SHAPES = [[(0, .85), (.7, .85), (1.5, .85), (2.2, .65), (2.85, .35)],
                [(0, .02), (1.4, .01)],
                [(0, .9), (.4, .65), (1, .3), (1.8, .22), (2.45, .2)],
                [(0, .9), (.4, .6), (1, .25), (1.8, .15), (2.6, .15)]]
ERBB3_DOTS = [(.95, 2.0), (1.1, 1.9), (1.2, 1.7), (1.3, 2.7), (1.3, 1.2), (1, 1.1), (1.2, .5), (.9, .03), (1.3, .03), (1.7, 1.4), (1.65, .03), (1.75, .03),
              (2.05, .03), (2.15, .03), (2.3, .03), (2.7, 2.2), (2.75, 1.5), (3, .5), (3.15, 1.2), (3.3, 2.4), (3.35, 1.3), (3, .03), (3.2, .03), (2.85, .03),
              (3.65, .7), (4.15, 2.5), (4.2, 1.9), (4.3, 1.2), (4, .5), (4.1, .03), (3.85, .03)]

EPAS1_SHAPES = [[(0, .5), (1, .45), (1.8, .55), (2.6, .8), (3.4, .75)],
                [(0, .85), (.8, .6), (1.6, .4), (2.5, .3)],
                [(0, .2), (.5, .35), (1.3, .3), (2, .9), (2.7, .55), (3.3, .35), (3.85, .15)],
                [(0, .9), (.5, .75), (1, .4), (1.9, .35), (2.8, .3)]]
EPAS1_DOTS = [(.7, .3), (.75, 2.7), (.95, 3.1), (1.1, 2.3), (1.2, 2.9), (.9, .4), (1, .03), (1.7, 1.8), (2, 1.0), (2.3, 2.5), (2.1, .03), (1.85, .03),
              (2.65, .1), (2.7, 1.2), (2.75, 2.3), (2.9, 1.9), (3, 2.2), (3.2, 2.1), (3.1, 3.7), (3.3, 2.9), (3.05, .8), (3.7, 2.7), (3.85, .3), (4, 1.4),
              (4.25, 2.3), (4.3, 1.7), (4.35, .9), (4.2, .03), (4, .03), (3.8, .03)]

DNMT3B_SHAPES = [[(.05, .5), (.8, .4), (1.5, .6), (2, .85), (2.6, .6), (3.2, .35)],
                 [(.1, .5), (.8, .75), (1.6, .8), (2, .8)],
                 [(.1, .25), (.8, .5), (1.6, .8), (2.4, .9), (3.1, .5), (3.6, .15), (4.1, .1)],
                 [(.1, .4), (.6, .6), (1.3, .7), (2, .85), (2.7, .7), (3.1, .5)]]
DNMT3B_DOTS = [(.85, 3.2), (.85, 2.0), (1, 1.9), (1.2, 2.6), (1.3, 1.9), (1.05, .8), (1.3, .7), (.9, .1), (1.2, .1), (2.3, 1.5), (2.25, 1.1), (2.1, .6), (1.9, .2),
               (2.7, 2.8), (2.8, 1.8), (2.85, 1.0), (3, 2.2), (3.15, 2.5), (3.25, 2.0), (3.2, 1.3), (3, .6), (3.35, .1), (3.75, 2.3), (3.9, 1.7), (4, 2.6), (4.2, 1.9),
               (4.3, 2.2), (4.05, 1.2), (4.15, .5), (3.9, .8)]

TET1_SHAPES = [[(0, .85), (.5, .6), (1.2, .35), (2.2, .25), (3.3, .15)],
               [(0, .85), (.6, .8), (1.3, .55), (2.4, .3), (3.4, .2)],
               [(0, .85), (.3, .55), (.8, .2), (2, .15), (3.3, .12)],
               [(0, .8), (.1, .4), (.25, .12), (.8, .1), (1.8, .18)]]
TET1_DOTS = [(.9, 3.3), (.95, 1.8), (1.05, 1.7), (.8, .9), (1.1, .6), (1.15, 3.3), (1.1, .03), (.85, .03), (1.2, .1), (2.15, 1.5), (2.35, 2.2), (1.9, .9), (2, .8),
             (1.85, .1), (2.1, .1), (2.7, 1.9), (2.75, 1.8), (2.95, 1.7), (3.1, 3.1), (3.3, 3.3), (3.35, 1.7), (3.3, 1.4), (3.05, 1.2), (3, .03), (3.2, .03), (2.85, .03),
             (4.3, 1.8), (4.3, 1.4), (4.3, 1.0), (4.05, .9), (4.05, .1), (4.35, .03)]

GENES = ["Mmp2", "Ovol2", "Selp", "Flt4", "Pdgfrb", "Dab2ip", "Pecam1", "Itgb3", "Cdkn1b", "Lama5", "Icam1", "Fhl2",
         "Hbegf", "Col18a1", "Il18", "Pik3r1", "Bcl6b", "T", "Erbb3", "Epas1", "Dnmt3b", "Tet1"]
GENE_YMAX = [2.85, 3.1, 2.15, 2.6, 2.0, 4.0, 2.6, 3.3, 2.7, 3.3, 3.3, 3.1, 3.3, 3.3, 3.15, 4.2, 4.0, 4.0, 3.05, 3.95, 4.1, 3.4]
GENE_TOP_TICK = [2, 3, 2, 2, 2, 4, 2, 3, 2, 3, 3, 3, 3, 3, 3, 4, 4, 4, 3, 4, 4, 3]
GENE_SHAPES = [MMP2_SHAPES, OVOL2_SHAPES, SELP_SHAPES, FLT4_SHAPES, PDGFRB_SHAPES, DAB2IP_SHAPES, PECAM1_SHAPES, ITGB3_SHAPES,
               CDKN1B_SHAPES, LAMA5_SHAPES, ICAM1_SHAPES, FHL2_SHAPES, HBEGF_SHAPES, COL18A1_SHAPES, IL18_SHAPES, PIK3R1_SHAPES,
               BCL6B_SHAPES, T_SHAPES, ERBB3_SHAPES, EPAS1_SHAPES, DNMT3B_SHAPES, TET1_SHAPES]
GENE_DOTS = [MMP2_DOTS, OVOL2_DOTS, SELP_DOTS, FLT4_DOTS, PDGFRB_DOTS, DAB2IP_DOTS, PECAM1_DOTS, ITGB3_DOTS,
             CDKN1B_DOTS, LAMA5_DOTS, ICAM1_DOTS, FHL2_DOTS, HBEGF_DOTS, COL18A1_DOTS, IL18_DOTS, PIK3R1_DOTS,
             BCL6B_DOTS, T_DOTS, ERBB3_DOTS, EPAS1_DOTS, DNMT3B_DOTS, TET1_DOTS]

# --- LAYOUT (pixels from the top left of the picture) ---

VIOLIN_BOXES = [
    (139, 563, 270, 607), (295, 563, 426, 607), (453, 564, 584, 608), (606, 563, 737, 608),
    (139, 637, 270, 681), (295, 637, 426, 680), (453, 638, 584, 682), (606, 638, 737, 682),
    (138, 709, 269, 753), (295, 709, 426, 753), (453, 709, 584, 752), (604, 708, 736, 752),
    (139, 781, 270, 823), (295, 781, 426, 823), (453, 781, 583, 824), (604, 781, 736, 824),
    (138, 857, 270, 900), (295, 857, 426, 900), (450, 851, 583, 896), (607, 852, 738, 896),
    (140, 938, 271, 982), (295, 938, 426, 982),
]
LOG_TPM_GENES = ["Mmp2", "Pdgfrb", "Cdkn1b", "Hbegf", "Bcl6b", "Dnmt3b"]

fig = plt.figure(figsize=(8, 10), dpi=100)


def px_axes(left, top, right, bottom):
    return fig.add_axes([left / 800, 1 - bottom / 1000, (right - left) / 800, (bottom - top) / 1000])


canvas = px_axes(0, 0, 800, 1000)
canvas.set_xlim(0, 800)
canvas.set_ylim(1000, 0)
canvas.axis("off")


def label(x, y, text, size=8, weight="normal", color="black", style="normal", **kwargs):
    kwargs.setdefault("ha", "center")
    canvas.text(x, y, text, fontsize=size, fontweight=weight, color=color, fontstyle=style, va="center", **kwargs)


def volcano(box, xlim, ylim, xticks, title, red, black, mass_x, mass_top, mass_low):
    ax = px_axes(*box)
    ax.set_facecolor("#E6E6E6")
    ax.axvline(0, color="#F2F2F2", lw=1.2, zorder=1)
    ax.fill_between(mass_x, mass_low, mass_top, color="black", lw=0.8, zorder=2)
    ax.scatter(*zip(*black), s=6, color="black", alpha=0.55, linewidths=0, zorder=2)
    ax.scatter(*zip(*red), s=6, color="#F0404A", alpha=0.65, linewidths=0, zorder=3)
    for x in [-1, 1]:
        ax.axvline(x, color="#222222", lw=0.8, ls=(0, (5, 2)), zorder=4)
    ax.axhline(1.3, color="#222222", lw=0.8, ls=(0, (5, 2)), zorder=4)
    ax.set_xlim(*xlim)
    ax.set_ylim(*ylim)
    ax.set_xticks(xticks)
    ax.set_yticks(range(6))
    ax.tick_params(length=3, width=0.5, labelsize=8.5, color="#444444", pad=3)
    ax.tick_params(axis="y", labelrotation=90)
    for tick in ax.get_yticklabels():
        tick.set_va("center")
    for spine in ax.spines.values():
        spine.set_color("#999999")
        spine.set_linewidth(0.6)
    ax.set_ylabel(r"-Log$_{10}$ p-value", fontsize=8.8, labelpad=4)
    ax.set_title(title, fontsize=8, fontweight="bold", pad=3)
    return ax


def bar_panel(box, terms, values, colors, xmax, step, title, title_xy, xlabel_xy=None, first=8, spacing=15.1):
    left, top, right, bottom = box
    ax = px_axes(*box)
    ypos = list(range(len(terms)))
    ax.barh(ypos, values, height=0.82, color=colors)
    ax.set_xlim(0, xmax)
    ax.set_ylim((bottom - top - first) / spacing, -first / spacing)
    ax.set_yticks(ypos)
    ax.set_yticklabels(terms, fontsize=7.55, fontweight="bold")
    ax.set_xticks(range(0, xmax + 1, step))
    ax.tick_params(axis="x", length=3, width=0.9, labelsize=6.2, pad=1.5)
    ax.tick_params(axis="y", length=3, width=0.9, pad=1.5)
    for tick in ax.get_xticklabels():
        tick.set_fontweight("bold")
    for side in ["top", "right"]:
        ax.spines[side].set_visible(False)
    for side in ["left", "bottom"]:
        ax.spines[side].set_linewidth(1.1)
    label(*title_xy, title, size=7.2, weight="bold")
    if xlabel_xy:
        label(*xlabel_xy, "Fold enrichment", size=7.2, weight="bold")


def catmull_rom(points):
    # cubic pieces that pass through every read width
    verts = []
    for i in range(len(points) - 1):
        p0 = points[max(i - 1, 0)]
        p1, p2 = points[i], points[i + 1]
        p3 = points[min(i + 2, len(points) - 1)]
        verts.append((p1[0] + (p2[0] - p0[0]) / 6, p1[1] + (p2[1] - p0[1]) / 6))
        verts.append((p2[0] - (p3[0] - p1[0]) / 6, p2[1] - (p3[1] - p1[1]) / 6))
        verts.append(p2)
    return verts


def violin_path(center, profile, scale=0.47):
    right = [(center + w * scale, y) for y, w in profile]
    left = [(center - w * scale, y) for y, w in reversed(profile)]
    verts = [left[-1], right[0]]
    codes = [Path.MOVETO, Path.LINETO]
    right_curve = catmull_rom(right)
    verts += right_curve
    codes += [Path.CURVE4] * len(right_curve)
    verts.append(left[0])
    codes.append(Path.LINETO)
    left_curve = catmull_rom(left)
    verts += left_curve
    codes += [Path.CURVE4] * len(left_curve)
    verts.append(left[-1])
    codes.append(Path.CLOSEPOLY)
    return Path(verts, codes)


def violin_panel(box, gene, ymax, top_tick, shapes, dots):
    ax = px_axes(*box)
    ymin = -0.035 * ymax
    for i, profile in enumerate(shapes):
        if profile:
            ax.add_patch(PathPatch(violin_path(i + 1, profile), facecolor=GROUP_COLORS[i], edgecolor="#555555", lw=0.6))
    ax.scatter(*zip(*dots), s=2, color="#222222", linewidths=0, zorder=3)
    ax.set_xlim(0.4, 4.6)
    ax.set_ylim(ymin, ymax)
    ax.set_xticks([1, 2, 3, 4])
    ax.set_xticklabels([])
    ax.set_yticks(range(top_tick + 1))
    ax.tick_params(axis="x", length=1.2, width=0.4, color="#555555")
    ax.tick_params(axis="y", length=1.5, width=0.4, color="#555555", labelsize=9.5, labelrotation=90, pad=1)
    for tick in ax.get_yticklabels():
        tick.set_va("center")
    for spine in ax.spines.values():
        spine.set_color("#D0D0D0")
        spine.set_linewidth(0.8)
    ax.set_title(gene, fontsize=9, fontweight="bold", pad=1.5)
    if gene in LOG_TPM_GENES:
        label(box[0] - 24, (box[1] + box[3]) / 2, "Log TPM", size=9, rotation=90)


# --- PANEL LETTERS ---

label(19, 17, "A", size=19, weight="bold")
label(236, 15, "B", size=19, weight="bold")
label(255, 355, "C", size=19, weight="bold")
label(9, 541, "D", size=19, weight="bold")

# --- PANEL A ---

volcano((51, 52, 195, 206), (-2.68, 2.98), (-0.2, 5.17), [-2, -1, 0, 1, 2], "\u201cProSG\u201d subset",
        PROSG_RED, PROSG_BLACK, PROSG_MASS_X, PROSG_MASS_TOP, PROSG_MASS_LOW)
volcano((48, 251, 192, 406), (-1.98, 2.28), (-0.22, 5.18), [-1, 0, 1, 2], "\u201cSSC\u201d subset",
        SSC_RED, SSC_BLACK, SSC_MASS_X, SSC_MASS_TOP, SSC_MASS_LOW)
label(126, 441, r"Log$_2$ fold change (WT/KO)", size=8.8)

# --- VENN B ---

RED_FILL, BLUE_FILL, LENS_FILL = "#FF8080", "#8080FF", "#6A2BA8"
label(358, 30, "Positively regulated", size=10.2, weight="bold")
canvas.add_patch(Circle((296, 143), 69.5, color=RED_FILL, lw=0))
canvas.add_patch(Circle((415, 142), 96, color=BLUE_FILL, lw=0))
lens_up = Circle((296, 143), 69.5, color=LENS_FILL, lw=0)
canvas.add_patch(lens_up)
lens_up.set_clip_path(Circle((415, 142), 96, transform=canvas.transData))

label(293, 84, "316", size=8, weight="bold")
label(338, 93, "92", size=8, weight="bold")
label(410, 55, "1023", size=8, weight="bold")
RED_TINT, BLUE_TINT = "#F9D9DC", "#D2D3FA"
for i, gene in enumerate(UP_PROSG_ONLY_1):
    label(257, 111.7 + 12.1 * i, gene, size=7.6, style="italic", color=RED_TINT)
for i, gene in enumerate(UP_PROSG_ONLY_2):
    color = {"Bcl6b": "black", "Erbb3": "black", "Dnmt3b": "#FFD21E"}.get(gene, RED_TINT)
    label(298, 111.7 + 12.1 * i, gene, size=7.6, style="italic", color=color)
for i, gene in enumerate(UP_SHARED):
    color = "black" if gene in ["T", "Epas1"] else "#EDE4F7"
    label(340, 106.3 + 12.15 * i, gene, size=7.6, style="italic", color=color)
for i, gene in enumerate(UP_SSC_ONLY_1):
    label(392.7, 92.7 + 12.15 * i, gene, size=7.6, style="italic", color=BLUE_TINT)
for i, gene in enumerate(UP_SSC_ONLY_2):
    color = "#FFE93B" if gene == "Tet1" else BLUE_TINT
    label(445, 92.7 + 12.15 * i, gene, size=7.6, style="italic", color=color)
label(293, 224, "\u201cProSG\u201d", size=8.6, weight="bold")
label(417, 250, "\u201cSSC\u201d", size=8.6, weight="bold")

# --- VENN C ---

label(375, 371, "Negatively regulated", size=10.2, weight="bold")
canvas.add_patch(Ellipse((353, 445), 96, 104, color=RED_FILL, lw=0))
canvas.add_patch(Ellipse((416.5, 446.5), 57, 63, color=BLUE_FILL, lw=0))
lens_down = Ellipse((353, 445), 96, 104, color=LENS_FILL, lw=0)
canvas.add_patch(lens_down)
lens_down.set_clip_path(Ellipse((416.5, 446.5), 57, 63, transform=canvas.transData))
label(353.5, 401, "193", size=8, weight="bold")
label(418, 422, "92", size=8, weight="bold")
label(395.5, 432, "9", size=8, weight="bold")
for i, gene in enumerate(DOWN_PROSG_ONLY):
    label(353.5, 424.7 + 13.2 * i, gene, size=7.6, style="italic", color="#FFD21E")
label(418, 489.5, "\u201cSSC\u201d", size=8.6, weight="bold")
label(353.5, 508, "\u201cProSG\u201d", size=8.6, weight="bold")

# --- ENRICHMENT BARS ---

bar_panel((705.7, 13, 793.3, 134), UP_PROSG_TERMS, UP_PROSG_FOLD, UP_COLORS, 20, 5, "ProSG", (741, 5.5))
bar_panel((703.7, 173.3, 794.7, 296), UP_SSC_TERMS, UP_SSC_FOLD, UP_COLORS, 8, 2, "SSC", (742, 164), (740, 318),
          first=6.7, spacing=15.6)
bar_panel((698.4, 380, 786.4, 495.3), DOWN_PROSG_TERMS, DOWN_PROSG_FOLD, DOWN_COLORS, 25, 5, "ProSG", (742, 372), (741, 521),
          first=8.4, spacing=16.4)

# --- PANEL D ---

TINT = "#C9DFF7"
for x0, y0, y1 in [(52, 551, 827), (52, 842, 902), (52, 918, 999)]:
    canvas.add_patch(Rectangle((x0, y0), 36, y1 - y0, color=TINT, lw=0))
label(71, 688, "Cell Migration and Adhesion", size=9.9, weight="bold", rotation=90)
label(70, 872, "SSC", size=10, weight="bold", rotation=90)
label(70, 958, "DNA\nMethylation", size=9.8, weight="bold", rotation=90, linespacing=1.1, multialignment="center")

for box, gene, ymax, tick, shapes, dots in zip(VIOLIN_BOXES, GENES, GENE_YMAX, GENE_TOP_TICK, GENE_SHAPES, GENE_DOTS):
    violin_panel(box, gene, ymax, tick, shapes, dots)

# --- LEGEND ---

LEGEND_LABELS = ["WT", "KO", "WT", "KO"]
for i, (color, text) in enumerate(zip(GROUP_COLORS, LEGEND_LABELS)):
    y0 = 914 + 18.4 * i
    canvas.add_patch(Rectangle((456, y0), 18, 18.4, facecolor=color, edgecolor="#555555", lw=0.6))
    canvas.plot([456, 474], [y0 + 18.4, y0], color="#555555", lw=0.7)
    label(488.5, y0 + 9, text, size=8.5)
for y0, y1, text in [(920.7, 943, "\u201cProSG\u201d"), (957.3, 980, "\u201cSSC\u201d")]:
    canvas.plot([505, 510, 510, 505], [y0, y0, y1, y1], color="#555555", lw=0.7)
    label(513, (y0 + y1) / 2, text, size=8, ha="left")

fig.savefig("out.png", dpi=100)
